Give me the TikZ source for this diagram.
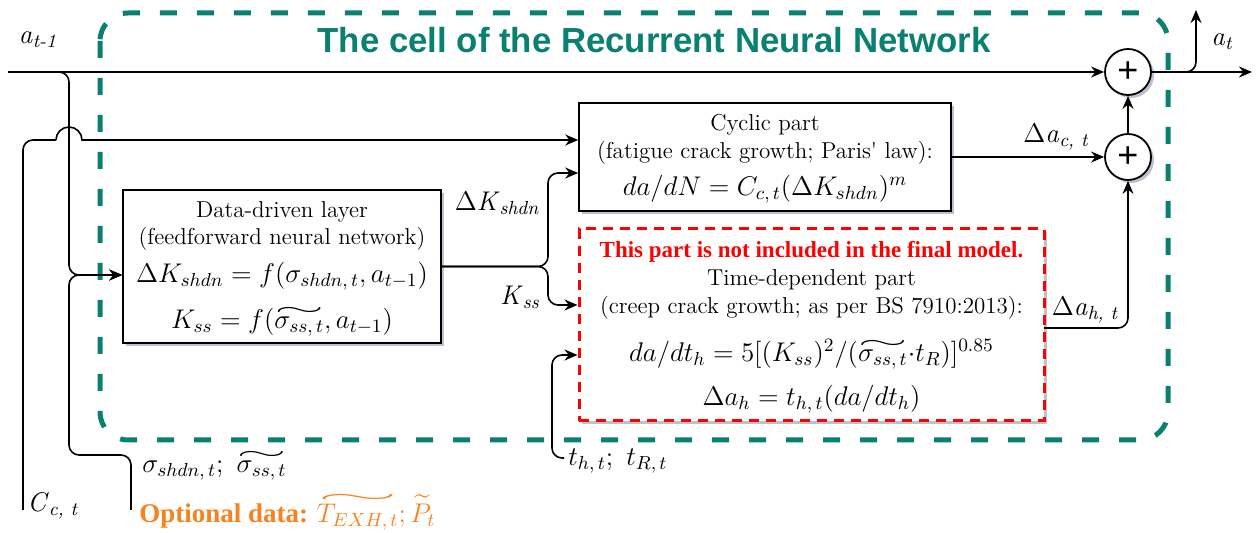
\RequirePackage{fix-cm}
\documentclass[tikz,border=0pt]{standalone}
\usepackage{amsmath}
\usepackage{graphicx}
\usepackage{fontspec}
\setmainfont{Latin Modern Roman}
\newfontfamily\titlefont{Liberation Sans}
\newfontfamily\boldserif{Liberation Serif}
\usetikzlibrary{arrows.meta,shadows}
\definecolor{cellteal}{HTML}{0A8070}
\definecolor{optorange}{HTML}{F7821E}
\definecolor{warnred}{HTML}{FF0000}
\newcommand{\txt}{\fontsize{11.5}{14}\selectfont}
\newcommand{\mth}{\fontsize{13.5}{16}\selectfont}
\newcommand{\lbl}{\fontsize{13.5}{16}\selectfont}
% wide tilde spanning its whole argument
\newcommand{\wtl}[1]{{\setbox0=\hbox{$#1$}\vbox{\offinterlineskip\halign{##\cr\hbox to\wd0{\resizebox{\wd0}{0.3em}{$\sim$}}\cr\noalign{\kern0.6pt}\box0\cr}}}}
\tikzset{
  conn/.style={line width=0.8pt, draw=black},
  arr/.style={conn, -{Stealth[length=6.5pt,width=5.5pt]}},
  softshadow/.style={drop shadow={shadow xshift=1.5pt,shadow yshift=-1.5pt,opacity=0.25,fill=black!70!blue}},
  blockbox/.style={draw, line width=0.8pt, fill=white, inner sep=0pt, softshadow},
  redbox/.style={draw=warnred, line width=1.5pt, dash pattern=on 5pt off 3.5pt, fill=white, inner sep=0pt, softshadow},
  cellframe/.style={draw=cellteal, line width=2.5pt, dash pattern=on 8.5pt off 10pt, rounded corners=14pt},
  plusnode/.style={circle, draw, line width=0.9pt, fill=white, minimum size=23pt, inner sep=0pt, softshadow, font=\titlefont\fontsize{18}{18}\selectfont},
  txtnode/.style={inner sep=0pt, font=\txt},
  mthnode/.style={inner sep=0pt, font=\mth},
  lblnode/.style={inner sep=0pt, font=\lbl},
}
\begin{document}
\begin{tikzpicture}[x=0.5pt, y=-0.5pt]
\useasboundingbox (0,0) rectangle (1259,533);

% cell frame and title
\draw[cellframe] (100,13) rectangle (1168,440);
\node[text=cellteal, inner sep=0pt, font=\titlefont\bfseries\fontsize{17.4}{20}\selectfont] (title) at (654,40) {The cell of the Recurrent Neural Network};

% boxes
\node[blockbox, minimum width=159pt, minimum height=76.5pt] (dd) at (282,266.5) {};
\node[blockbox, minimum width=186pt, minimum height=54pt] (cyc) at (765,157) {};
\node[redbox, minimum width=232.5pt, minimum height=96pt] (red) at (811.5,325) {};
\node[plusnode] (p1) at (1128,72) {+};
\node[plusnode] (p2) at (1128,157) {+};

% box texts
\node[txtnode] (ddA) at (282,212) {Data-driven layer};
\node[txtnode] (ddB) at (282,239) {(feedforward neural network)};
\node[mthnode] (ddC) at (282,276) {$\Delta K_{shdn} = f(\sigma_{shdn,\,t}, a_{t-1})$};
\node[mthnode] (ddD) at (282,322) {$K_{ss} = f(\wtl{\sigma_{ss,\,t}}, a_{t-1})$};

\node[txtnode] (cycA) at (765,125) {Cyclic part};
\node[txtnode] (cycB) at (765,153) {(fatigue crack growth; Paris\textquotesingle{} law):};
\node[mthnode] (cycC) at (765,189) {$da/dN = C_{c,\,t}(\Delta K_{shdn})^m$};

\node[inner sep=0pt, text=warnred, font=\boldserif\bfseries\fontsize{11.5}{14}\selectfont] (redA) at (811.5,252) {This part is not included in the final model.};
\node[txtnode] (redB) at (811.5,280) {Time-dependent part};
\node[txtnode] (redC) at (811.5,308) {(creep crack growth; as per BS 7910:2013):};
\node[mthnode] (redD) at (811.5,354) {$da/dt_h = 5[(K_{ss})^2/(\wtl{\sigma_{ss,\,t}}{\cdot}t_R)]^{0.85}$};
\node[mthnode] (redE) at (811.5,399) {$\Delta a_h = t_{h,\,t}(da/dt_h)$};

% labels
\node[lblnode] (lat1) at (38,40) {\textit{a}$_{\textit{t-1}}$};
\node[lblnode] (lat) at (1222,42) {\textit{a}$_{\textit{t}}$};
\node[lblnode] (ldac) at (1056,137) {$\Delta$\textit{a}$_{\textit{c, t}}$};
\node[lblnode] (ldah) at (1085,310) {$\Delta$\textit{a}$_{\textit{h, t}}$};
\node[lblnode] (ldK) at (497,203) {$\Delta$\textit{K}$_{\textit{shdn}}$};
\node[lblnode] (lKss) at (520,297) {\textit{K}$_{\textit{ss}}$};
\node[lblnode, anchor=west] (lC) at (27,506) {\textit{C}$_{\textit{c, t}}$};
\node[lblnode, anchor=west] (lsig) at (142,466) {$\sigma_{shdn,\,t};\ \wtl{\sigma_{ss,\,t}}$};
\node[lblnode, anchor=west, text=optorange] (lopt) at (139,512) {{\boldserif\bfseries\fontsize{13.5}{16}\selectfont Optional data:}\ $\wtl{T_{EXH,\,t}}; \widetilde{P}_t$};
\node[lblnode, anchor=west] (lt) at (568,461) {$t_{h,\,t};\ t_{R,\,t}$};

% coordinates
\coordinate (ain) at (8,72);
\coordinate (aout) at (1252,72);
\coordinate (atbr) at (1178,72);
\coordinate (atup) at (1196,10);
\coordinate (b1) at (50,72);
\coordinate (vx) at (69,275);
\coordinate (sigin) at (131,510);
\coordinate (sigc) at (69,455);
\coordinate (cin) at (23,510);
\coordinate (hopL) at (56,140);
\coordinate (sUp) at (548,173);
\coordinate (sDn) at (548,305);
\coordinate (tc) at (552,355);
\coordinate (tb) at (564,458);
\coordinate (dah) at (1044,328);

% connectors
\draw[arr] (ain) -- (p1);
\draw[arr] (p1) -- (aout);
\draw[arr, rounded corners=5pt] (atbr) -| (atup);
\draw[arr] (p2) -- (p1);
\draw[arr] (cyc) -- (p2);
\draw[arr, rounded corners=5pt] (dah) -| (p2.south);
\draw[arr, rounded corners=5pt] (b1) -| (vx) -- (dd.west |- vx);
\draw[arr, rounded corners=5pt] (sigin) |- (sigc) -- (vx) -- (dd.west |- vx);
\draw[conn, rounded corners=5pt] (cin) |- (hopL);
\draw[arr] (hopL) arc[start angle=180, end angle=0, radius=6.5pt] -- (cyc.west |- hopL);
\draw[arr, rounded corners=5pt] (dd.east) -| (sUp) -- (cyc.west |- sUp);
\draw[arr, rounded corners=5pt] (dd.east) -| (sDn) -- (red.west |- sDn);
\draw[arr, rounded corners=5pt] (tb) -| (tc) -- (red.west |- tc);
\end{tikzpicture}
\end{document}
